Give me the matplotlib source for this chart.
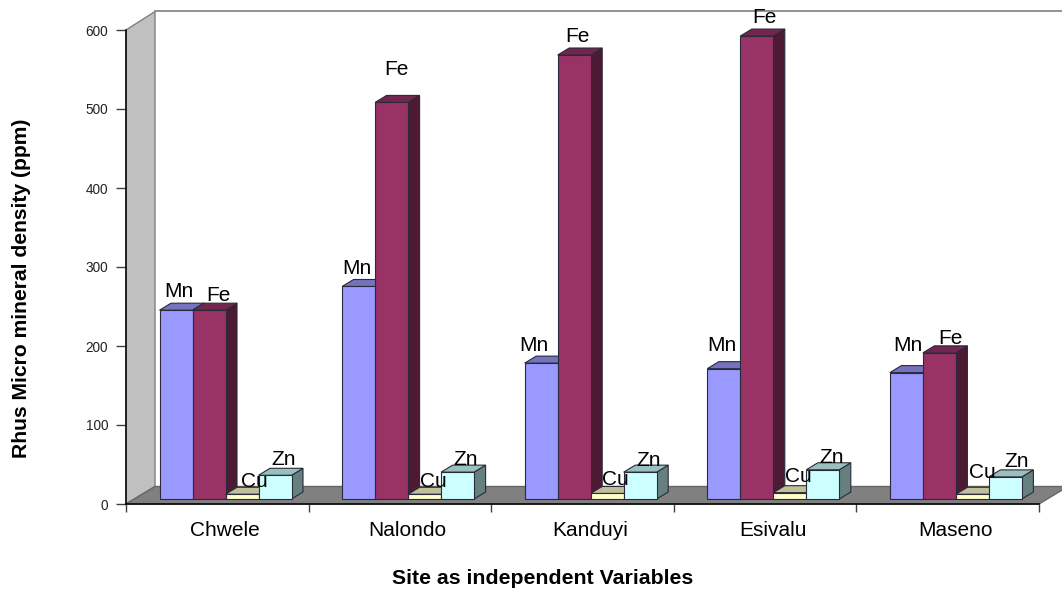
import matplotlib
matplotlib.use("Agg")
import matplotlib.pyplot as plt
from matplotlib.patches import Polygon

plt.rcParams["font.family"] = ["Liberation Sans", "DejaVu Sans"]

sites = ["Chwele", "Nalondo", "Kanduyi", "Esivalu", "Maseno"]
minerals = ["Mn", "Fe", "Cu", "Zn"]
mn = [239, 269, 172, 165, 160]
fe = [239, 502, 562, 586, 185]
cu = [6, 6, 7, 8, 6]
zn = [30, 34, 34, 37, 28]
y_ticks = [0, 100, 200, 300, 400, 500, 600]

# face, top, side colours for each mineral
colors = [
    ("#9999FF", "#7373BF", "#4D4D80"),
    ("#993366", "#73264D", "#4D1A33"),
    ("#FFFFCC", "#BFBF99", "#808066"),
    ("#CCFFFF", "#99BFBF", "#668080"),
]

# data labels don't sit at a fixed spot, nudges in pixels from the bar top centre
label_dx = [[3, -2, -7, -2, 1], [9, 5, 3, 8, 11], [12, 9, 8, 9, 10], [9, 8, 8, 9, 11]]
label_dy = [[13, 12, 12, 18, 22], [9, 27, 13, 13, 9], [7, 7, 8, 11, 16], [10, 7, 6, 7, 10]]

W, H = 1062, 589
LEFT, RIGHT, BOTTOM, TOP = 126, 1039, 504, 30

fig = plt.figure(figsize=(W / 100, H / 100), dpi=100)
ax = fig.add_axes([LEFT / W, 1 - BOTTOM / H, (RIGHT - LEFT) / W, (BOTTOM - TOP) / H])
ax.set_xlim(0, len(sites))
ax.set_ylim(0, 600)

# pixel sizes to data units
px_x = len(sites) / (RIGHT - LEFT)
px_y = 600 / (BOTTOM - TOP)

# back wall and floor of the 3D box
wall_dx, wall_dy = 29 * px_x, 17.5 * px_y
top_dy = 18.5 * px_y
ax.add_patch(Polygon([(0, 0), (wall_dx, wall_dy), (wall_dx, 600 + top_dy), (0, 600)],
                     fc="#C0C0C0", ec="#808080", lw=1, clip_on=False, zorder=1))
ax.add_patch(Polygon([(0, 0), (wall_dx, wall_dy), (5 + wall_dx, wall_dy), (5, 0)],
                     fc="#808080", ec="#666666", lw=1, clip_on=False, zorder=1))
ax.plot([wall_dx, 5 + wall_dx], [600 + top_dy] * 2, color="#808080", lw=1.2,
        clip_on=False, zorder=1)

bar_w = 33.0 * px_x
bar_start = 33.5 * px_x
lift = 5 * px_y
depth_x, depth_y = 11.5 * px_x, 7 * px_y


def draw_bar(x, value, cols, z):
    y0, y1 = lift, lift + value
    edge = dict(ec="#2a2a3a", lw=0.8, clip_on=False, zorder=z)
    ax.add_patch(Polygon([(x + bar_w, y0), (x + bar_w + depth_x, y0 + depth_y),
                          (x + bar_w + depth_x, y1 + depth_y), (x + bar_w, y1)], fc=cols[2], **edge))
    ax.add_patch(Polygon([(x, y1), (x + depth_x, y1 + depth_y),
                          (x + bar_w + depth_x, y1 + depth_y), (x + bar_w, y1)], fc=cols[1], **edge))
    ax.add_patch(Polygon([(x, y0), (x + bar_w, y0), (x + bar_w, y1), (x, y1)], fc=cols[0], **edge))


series = [mn, fe, cu, zn]
for i in range(len(sites)):
    for j, values in enumerate(series):
        x = i + bar_start + j * bar_w
        draw_bar(x, values[i], colors[j], 3 + i + j * 0.1)
        ax.annotate(minerals[j], (x + bar_w / 2, lift + values[i]),
                    xytext=(label_dx[j][i] * 0.72, label_dy[j][i] * 0.72),
                    textcoords="offset points", ha="center", va="baseline",
                    fontsize=15, color="black", zorder=20, annotation_clip=False)

for s in ["top", "right"]:
    ax.spines[s].set_visible(False)
for s in ["left", "bottom"]:
    ax.spines[s].set_linewidth(1.1)
    ax.spines[s].set_zorder(2)

ax.set_yticks(y_ticks)
ax.tick_params(axis="y", length=7.2, width=1, color="#404040", labelcolor="#222222",
               labelsize=9.8, pad=5.5)
ax.set_xticks(range(len(sites) + 1))
ax.set_xticklabels([])
ax.tick_params(axis="x", length=6, width=1, color="#404040")
# site names sit a little right of the tick interval centre
ax.set_xticks([i + 0.5 + 7.5 * px_x for i in range(len(sites))], minor=True)
ax.set_xticklabels(sites, minor=True, fontsize=15)
ax.tick_params(axis="x", which="minor", length=0, pad=12)

fig.text(543 / W, 1 - 578 / H, "Site as independent Variables", ha="center", va="center",
         fontsize=15.3, fontweight="bold")
fig.text(22 / W, 1 - 288.5 / H, "Rhus Micro mineral density (ppm)", ha="center", va="center",
         rotation=90, fontsize=15.2, fontweight="bold")

fig.savefig("out.png", dpi=100)
